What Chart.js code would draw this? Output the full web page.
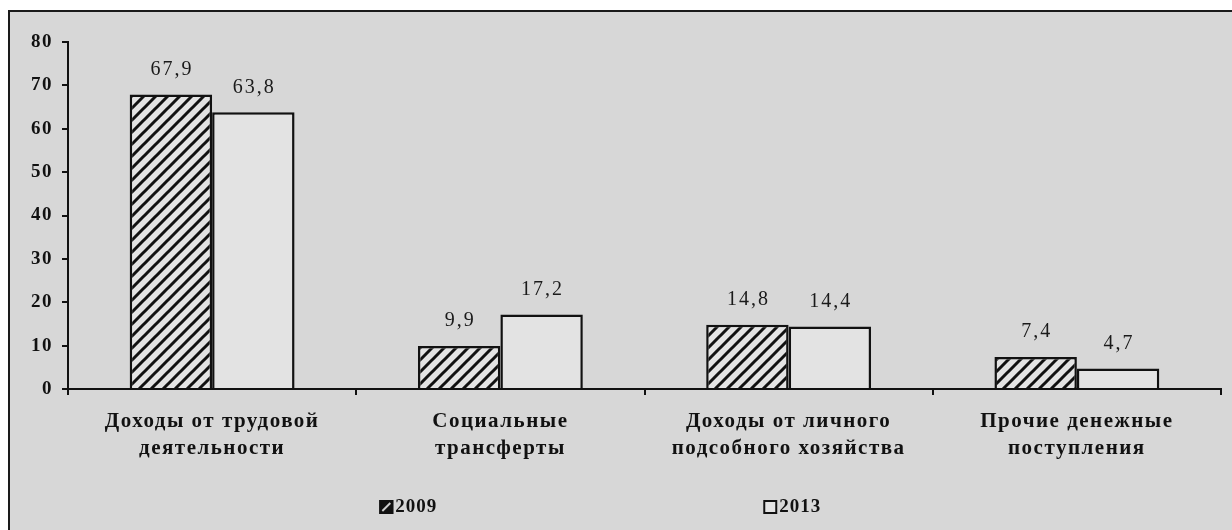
<!DOCTYPE html>
<html>
<head>
<meta charset="utf-8">
<script src="https://cdn.jsdelivr.net/npm/chart.js@4"></script>
<style>
  html, body { margin: 0; padding: 0; background: #fff; }
  .frame {
    position: absolute; left: 8px; top: 10px; width: 1240px; height: 540px;
    border: 2px solid #1a1a1a; background: #d7d7d7;
  }
  #wrap { position: absolute; left: 0; top: 0; width: 1232px; height: 530px; }
</style>
</head>
<body>
<div class="frame"></div>
<div id="wrap"><canvas id="chart" width="1232" height="530"></canvas></div>
<script>
const categories = [
  ['Доходы от трудовой', 'деятельности'],
  ['Социальные', 'трансферты'],
  ['Доходы от личного', 'подсобного хозяйства'],
  ['Прочие денежные', 'поступления']
];
const seriesNames = ['2009', '2013'];
const values2009 = [67.9, 9.9, 14.8, 7.4];
const values2013 = [63.8, 17.2, 14.4, 4.7];
const yTicks = [0, 10, 20, 30, 40, 50, 60, 70, 80];

const barFill = '#e3e3e3';
const ink = '#111';
const serif = '"Liberation Serif", "Times New Roman", serif';

function makeHatch() {
  const c = document.createElement('canvas');
  c.width = 12; c.height = 12;
  const g = c.getContext('2d');
  g.fillStyle = barFill;
  g.fillRect(0, 0, 12, 12);
  g.strokeStyle = ink;
  g.lineWidth = 3;
  g.beginPath();
  g.moveTo(-1, 13); g.lineTo(13, -1);
  g.moveTo(-4, 4); g.lineTo(4, -4);
  g.moveTo(8, 16); g.lineTo(16, 8);
  g.stroke();
  return g.createPattern(c, 'repeat');
}

const ctx = document.getElementById('chart').getContext('2d');
const hatch = makeHatch();

const labelsPlugin = {
  id: 'extras',
  beforeDraw(chart) {
    chart.ctx.letterSpacing = '1.5px';
  },
  afterDraw(chart) {
    const c = chart.ctx;
    c.save();
    c.letterSpacing = '2px';
    c.font = '20px ' + serif;
    c.fillStyle = '#1a1a1a';
    c.textAlign = 'center';
    c.textBaseline = 'middle';
    chart.data.datasets.forEach((ds, di) => {
      chart.getDatasetMeta(di).data.forEach((bar, i) => {
        const txt = ds.data[i].toFixed(1).replace('.', ',');
        c.fillText(txt, bar.x + 1, bar.y - 25);
      });
    });

    // legend
    const area = chart.chartArea;
    const w = area.right - area.left;
    const items = [
      { x: area.left + w * 0.270, fill: 'dark' },
      { x: area.left + w * 0.603, fill: 'light' }
    ];
    const y = 500;
    c.font = 'bold 19px ' + serif;
    c.textAlign = 'left';
    c.letterSpacing = '1px';
    items.forEach((it, i) => {
      c.fillStyle = it.fill === 'dark' ? ink : barFill;
      c.fillRect(it.x, y, 14, 14);
      if (it.fill === 'dark') {
        c.strokeStyle = '#cfcfcf';
        c.lineWidth = 2;
        c.beginPath();
        c.moveTo(it.x + 3, y + 11);
        c.lineTo(it.x + 11, y + 3);
        c.stroke();
      }
      c.strokeStyle = ink;
      c.lineWidth = 2;
      c.strokeRect(it.x + 1, y + 1, 12, 12);
      c.fillStyle = ink;
      c.fillText(seriesNames[i], it.x + 16, y + 7);
    });
    c.restore();
  }
};

new Chart(ctx, {
  type: 'bar',
  data: {
    labels: categories,
    datasets: [
      {
        label: seriesNames[0],
        data: values2009,
        backgroundColor: hatch,
        borderColor: ink,
        borderWidth: 2.5,
        categoryPercentage: 0.572,
        barPercentage: 1.0
      },
      {
        label: seriesNames[1],
        data: values2013,
        backgroundColor: barFill,
        borderColor: ink,
        borderWidth: 2.5,
        categoryPercentage: 0.572,
        barPercentage: 1.0
      }
    ]
  },
  options: {
    responsive: false,
    animation: false,
    layout: { padding: { left: 0, right: 11, top: 42, bottom: 0 } },
    plugins: {
      legend: { display: false },
      tooltip: { enabled: false }
    },
    scales: {
      x: {
        afterFit: (s) => { s.height = 141; },
        grid: {
          offset: true,
          drawOnChartArea: false,
          tickLength: 6,
          tickColor: ink,
          lineWidth: 2
        },
        border: { color: ink, width: 2 },
        ticks: {
          color: ink,
          padding: 13,
          maxRotation: 0,
          autoSkip: false,
          font: { family: serif, size: 21, weight: 'bold', lineHeight: 1.3 }
        }
      },
      y: {
        min: 0,
        max: 80,
        afterFit: (s) => { s.width = 68; },
        afterBuildTicks: (s) => { s.ticks = yTicks.map(v => ({ value: v })); },
        grid: {
          drawOnChartArea: false,
          tickLength: 6,
          tickColor: ink,
          lineWidth: 2
        },
        border: { color: ink, width: 2 },
        ticks: {
          color: ink,
          padding: 9,
          font: { family: serif, size: 19, weight: 'bold' }
        }
      }
    }
  },
  plugins: [labelsPlugin]
});
</script>
</body>
</html>
